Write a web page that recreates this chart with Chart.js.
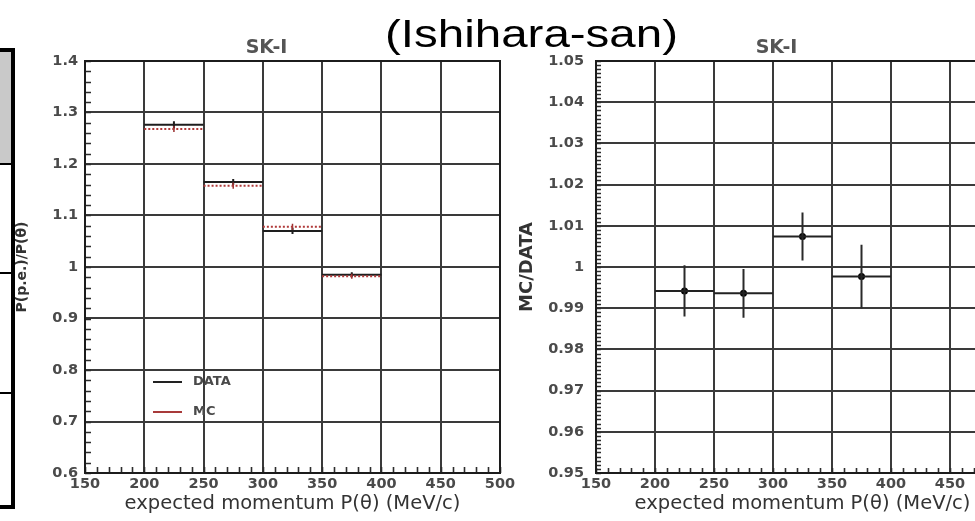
<!DOCTYPE html>
<html>
<head>
<meta charset="utf-8">
<title>SK-I momentum scale</title>
<script src="https://cdn.jsdelivr.net/npm/chart.js@4.4.1/dist/chart.umd.min.js"></script>
<style>
  html, body { margin: 0; padding: 0; background: #fff; overflow: hidden; }
  #stage { position: relative; width: 975px; height: 521px; overflow: hidden; background: #fff; }
  #sheet { position: absolute; left: -10px; top: 48px; width: 17px; height: 453px; border: 4px solid #000; }
  #sheet .band { position: absolute; left: 0; right: 0; }
  #sheet .rule { position: absolute; left: 0; right: 0; height: 2px; background: #000; }
  #caption { position: absolute; left: 385px; top: 15px; font: 38px "Liberation Sans", Arial, sans-serif; line-height: 38px;
             transform: scaleX(1.25); transform-origin: 0 0; white-space: nowrap; color: #000; z-index: 5; }
  canvas { position: absolute; top: 0; }
</style>
</head>
<body>
<div id="stage">
  <div id="sheet">
    <div class="band" style="top:0;height:112px;background:#c9c9c9"></div>
    <div class="rule" style="top:111px"></div>
    <div class="rule" style="top:220px"></div>
    <div class="rule" style="top:340px"></div>
  </div>
  <canvas id="scalePanel" width="530" height="521" style="left:0"></canvas>
  <canvas id="ratioPanel" width="550" height="521" style="left:490px"></canvas>
  <div id="caption">(Ishihara-san)</div>
</div>
<script>
// Momentum bins (MeV/c)
const binLow  = [200, 250, 300, 350];
const binHigh = [250, 300, 350, 400];

// P(p.e.)/P(θ) per bin
const dataValues = [1.276, 1.165, 1.070, 0.985];
const dataErrors = [0.007, 0.006, 0.006, 0.005];
const mcValues   = [1.268, 1.158, 1.078, 0.982];
const mcErrors   = [0.006, 0.006, 0.006, 0.005];

// MC/DATA per bin
const ratioValues = [0.9942, 0.9936, 1.0074, 0.9977];
const ratioErrors = [0.0062, 0.0059, 0.0058, 0.0077];

// Axis ticks
const momentumTicks = [150, 200, 250, 300, 350, 400, 450, 500];
const scaleTicks    = [0.6, 0.7, 0.8, 0.9, 1, 1.1, 1.2, 1.3, 1.4];
const ratioTicks    = [0.95, 0.96, 0.97, 0.98, 0.99, 1, 1.01, 1.02, 1.03, 1.04, 1.05];

const xTitle = 'expected momentum P(\u03B8) (MeV/c)';

// Horizontal bar across each bin, broken between bins
function binSegments(values) {
  const pts = [];
  values.forEach((v, i) => {
    pts.push({ x: binLow[i], y: v }, { x: binHigh[i], y: v }, { x: binHigh[i], y: null });
  });
  return pts;
}
// Vertical error bar at each bin centre
function errorSegments(values, errs) {
  const pts = [];
  values.forEach((v, i) => {
    const c = (binLow[i] + binHigh[i]) / 2;
    pts.push({ x: c, y: v - errs[i] }, { x: c, y: v + errs[i] }, { x: c, y: null });
  });
  return pts;
}
function binCentres(values) {
  return values.map((v, i) => ({ x: (binLow[i] + binHigh[i]) / 2, y: v }));
}

// Panel label above the frame
const panelLabel = {
  id: 'panelLabel',
  afterDraw(chart, args, opts) {
    const { ctx, chartArea: a } = chart;
    ctx.save();
    ctx.font = 'bold 19px "DejaVu Sans"';
    ctx.fillStyle = '#555';
    ctx.textAlign = 'center';
    ctx.textBaseline = 'alphabetic';
    ctx.fillText(opts.text, (a.left + a.right) / 2 + opts.shift, a.top - 8);
    ctx.restore();
  }
};

// Minor ticks on the bottom and left axes plus the closed frame
const frameTicks = {
  id: 'frameTicks',
  afterDraw(chart, args, opts) {
    const { ctx, chartArea: a, scales } = chart;
    const x = scales.x, y = scales.y;
    ctx.save();
    ctx.strokeStyle = '#2c2c2c';
    ctx.lineWidth = 1.6;
    ctx.beginPath();
    const nx = Math.round((x.max - x.min) / opts.xMinor);
    for (let k = 0; k <= nx; k++) {
      const px = Math.round(x.getPixelForValue(x.min + k * opts.xMinor)) + 0.5;
      ctx.moveTo(px, a.bottom);
      ctx.lineTo(px, a.bottom - opts.len);
    }
    const ny = Math.round((y.max - y.min) / opts.yMinor);
    for (let k = 0; k <= ny; k++) {
      const py = Math.round(y.getPixelForValue(y.min + k * opts.yMinor)) + 0.5;
      ctx.moveTo(a.left, py);
      ctx.lineTo(a.left + opts.len, py);
    }
    ctx.stroke();
    ctx.lineWidth = 2;
    ctx.strokeStyle = '#1c1c1c';
    ctx.strokeRect(a.left, a.top, a.right - a.left, a.bottom - a.top);
    ctx.restore();
  }
};

// Small key inside the plot for the flagged datasets
const boxKey = {
  id: 'boxKey',
  afterDatasetsDraw(chart, args, opts) {
    if (!opts.show) return;
    const { ctx, chartArea: a } = chart;
    const items = chart.data.datasets.filter(d => d.inKey);
    ctx.save();
    ctx.font = 'bold 13px "DejaVu Sans"';
    ctx.textBaseline = 'middle';
    ctx.textAlign = 'left';
    items.forEach((d, i) => {
      const yy = a.top + opts.top + i * opts.gap;
      ctx.strokeStyle = d.keyColor;
      ctx.lineWidth = 2;
      ctx.setLineDash([]);
      ctx.beginPath();
      ctx.moveTo(a.left + opts.left, yy);
      ctx.lineTo(a.left + opts.left + 29, yy);
      ctx.stroke();
      ctx.fillStyle = '#4a4a4a';
      ctx.fillText(d.label, a.left + opts.left + 40, yy);
    });
    ctx.restore();
  }
};

const tickFont = { family: 'DejaVu Sans', size: 14.5, weight: 'bold' };
const gridStyle = { color: '#3a3a3a', lineWidth: 2, drawTicks: false };

function xScale() {
  return {
    type: 'linear',
    min: 150, max: 500,
    afterBuildTicks: s => { s.ticks = momentumTicks.map(v => ({ value: v })); },
    afterFit: s => { s.height = 48; s.paddingLeft = 0; s.paddingRight = 0; },
    grid: gridStyle,
    border: { display: true, color: '#1c1c1c', width: 2 },
    ticks: { font: tickFont, color: '#4a4a4a', padding: 3, autoSkip: false, maxRotation: 0, minRotation: 0,
             callback: v => String(v) },
    title: { display: true, text: xTitle, font: { family: 'DejaVu Sans', size: 19.5 }, color: '#333',
             padding: { top: 0, bottom: 5 } }
  };
}

function yScale(tickValues, width, title, titleSize, titlePad, labelPad) {
  return {
    type: 'linear',
    min: tickValues[0], max: tickValues[tickValues.length - 1],
    afterBuildTicks: s => { s.ticks = tickValues.map(v => ({ value: v })); },
    afterFit: s => { s.width = width; s.paddingTop = 0; s.paddingBottom = 0; },
    grid: gridStyle,
    border: { display: true, color: '#1c1c1c', width: 2 },
    ticks: { font: tickFont, color: '#4a4a4a', padding: labelPad, autoSkip: false, callback: v => String(v) },
    title: { display: true, text: title, font: { family: 'DejaVu Sans', size: titleSize, weight: 'bold' },
             color: '#333', padding: { top: titlePad, bottom: 0 } }
  };
}

const common = {
  responsive: false,
  animation: false,
  devicePixelRatio: 1,
  events: [],
  elements: { point: { radius: 0 }, line: { tension: 0 } }
};

// Left panel: P(p.e.)/P(θ) for DATA and MC
new Chart(document.getElementById('scalePanel'), {
  type: 'scatter',
  data: {
    datasets: [
      { label: 'MC', inKey: false, data: binSegments(mcValues), showLine: true, spanGaps: false,
        borderColor: '#b03a3a', borderWidth: 2, borderDash: [2, 2], pointRadius: 0 },
      { label: 'MC error', data: errorSegments(mcValues, mcErrors), showLine: true, spanGaps: false,
        borderColor: '#9a3030', borderWidth: 1.5, pointRadius: 0 },
      { label: 'DATA', inKey: true, keyColor: '#222', data: binSegments(dataValues), showLine: true, spanGaps: false,
        borderColor: '#1e1e1e', borderWidth: 2, pointRadius: 0 },
      { label: 'DATA error', data: errorSegments(dataValues, dataErrors), showLine: true, spanGaps: false,
        borderColor: '#1e1e1e', borderWidth: 2, pointRadius: 0 },
      { label: 'MC', inKey: true, keyColor: '#a83a3a', data: [], showLine: false }
    ]
  },
  options: Object.assign({}, common, {
    layout: { padding: { left: 0, top: 61, right: 30, bottom: 0 } },
    scales: {
      x: xScale(),
      y: yScale(scaleTicks, 85, 'P(p.e.)/P(\u03B8)', 14, 13.5, 7)
    },
    plugins: {
      legend: { display: false },
      tooltip: { enabled: false },
      panelLabel: { text: 'SK-I', shift: -26 },
      frameTicks: { xMinor: 10, yMinor: 0.02, len: 6 },
      boxKey: { show: true, left: 68, top: 321, gap: 30 }
    }
  }),
  plugins: [panelLabel, frameTicks, boxKey]
});

// Right panel: MC/DATA ratio
new Chart(document.getElementById('ratioPanel'), {
  type: 'scatter',
  data: {
    datasets: [
      { label: 'MC/DATA', data: binSegments(ratioValues), showLine: true, spanGaps: false,
        borderColor: '#222', borderWidth: 2, pointRadius: 0 },
      { label: 'MC/DATA error', data: errorSegments(ratioValues, ratioErrors), showLine: true, spanGaps: false,
        borderColor: '#2a2a2a', borderWidth: 2, pointRadius: 0 },
      { label: 'MC/DATA points', data: binCentres(ratioValues), showLine: false,
        pointRadius: 3.5, pointBackgroundColor: '#000', pointBorderColor: '#000', pointBorderWidth: 0 }
    ]
  },
  options: Object.assign({}, common, {
    layout: { padding: { left: 0, top: 61, right: 31, bottom: 0 } },
    scales: {
      x: xScale(),
      y: yScale(ratioTicks, 106, 'MC/DATA', 18, 27, 12)
    },
    plugins: {
      legend: { display: false },
      tooltip: { enabled: false },
      panelLabel: { text: 'SK-I', shift: -26 },
      frameTicks: { xMinor: 10, yMinor: 0.001, len: 5 },
      boxKey: { show: false }
    }
  }),
  plugins: [panelLabel, frameTicks, boxKey]
});
</script>
</body>
</html>
